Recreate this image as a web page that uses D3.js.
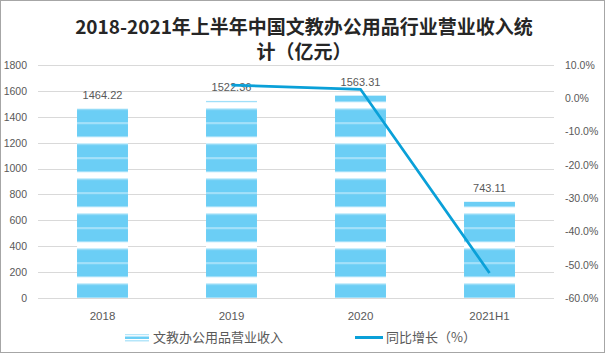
<!DOCTYPE html>
<html><head><meta charset="utf-8">
<script src="https://cdn.jsdelivr.net/npm/d3@7"></script>
<style>
body{margin:0;background:#fff;}
svg{display:block;}
</style></head>
<body>
<svg id="chart" width="606" height="355"></svg>
<script>
const categories = ["2018", "2019", "2020", "2021H1"];
const revenue = [1464.22, 1522.36, 1563.31, 743.11];
const growth = [null, 3.97, 2.69, -52.47];
const leftTicks = [0, 200, 400, 600, 800, 1000, 1200, 1400, 1600, 1800];
const rightTicks = [-60, -50, -40, -30, -20, -10, 0, 10];
const titleLines = ["2018-2021年上半年中国文教办公用品行业营业收入统", "计（亿元）"];
const legendLabels = ["文教办公用品营业收入", "同比增长（%）"];

const svg = d3.select("#chart");
const numFont = "'Liberation Sans', 'Noto Sans CJK SC', sans-serif";
const cjkFont = "'Noto Sans CJK SC', sans-serif";
const textColor = "#595959";
const barBlue = "#6BCEF5", lightBlue = "#B5E6FA", lineBlue = "#0AA0D8";

// background + border
svg.append("rect").attr("x", 0.5).attr("y", 0.5).attr("width", 604).attr("height", 352)
  .attr("fill", "#fff").attr("stroke", "#A6A6A6").attr("stroke-width", 1);

// pattern
const defs = svg.append("defs");
const pat = defs.append("pattern").attr("id", "stripes").attr("patternUnits", "userSpaceOnUse")
  .attr("x", 0).attr("y", 137.3).attr("width", 10).attr("height", 35);
[[0, 6, "#fff"], [6, 1.2, lightBlue], [7.2, 12.8, barBlue], [20, 1.4, lightBlue], [21.4, 12.6, barBlue], [34, 1, lightBlue]]
  .forEach(([y, h, c]) => pat.append("rect").attr("x", 0).attr("y", y).attr("width", 10).attr("height", h).attr("fill", c));

// scales
const x = d3.scaleBand().domain(categories).range([38, 554]).paddingInner(0.605).paddingOuter(0.3025);
const yL = d3.scaleLinear().domain([0, 1800]).range([298, 65]);
const yR = d3.scaleLinear().domain([-60, 10]).range([298, 65]);

// gridlines
const grid = svg.append("g").attr("transform", "translate(38,0)")
  .call(d3.axisLeft(yL).tickValues(leftTicks).tickSizeInner(-516).tickSizeOuter(0).tickFormat(""));
grid.select(".domain").remove();
grid.selectAll("line").attr("stroke", "#D9D9D9").attr("shape-rendering", "crispEdges");

// left axis
const la = svg.append("g").attr("transform", "translate(38,0)")
  .call(d3.axisLeft(yL).tickValues(leftTicks).tickSize(0).tickPadding(11).tickFormat(d3.format("d")));
la.select(".domain").remove();
la.selectAll("text").attr("font-family", numFont).attr("font-size", 10.5).attr("fill", textColor);

// right axis
const ra = svg.append("g").attr("transform", "translate(554,0)")
  .call(d3.axisRight(yR).tickValues(rightTicks).tickSize(0).tickPadding(11).tickFormat(d => d.toFixed(1) + "%"));
ra.select(".domain").remove();
ra.selectAll("text").attr("font-family", numFont).attr("font-size", 10.5).attr("fill", textColor);

// x axis
const xa = svg.append("g").attr("transform", "translate(0,298)")
  .call(d3.axisBottom(x).tickSize(0));
xa.select(".domain").remove();
xa.selectAll("text").attr("y", 22).attr("dy", 0).attr("font-family", numFont).attr("font-size", 11.5).attr("fill", textColor);

// bars
svg.append("g").selectAll("rect").data(categories).join("rect")
  .attr("x", d => x(d)).attr("width", x.bandwidth())
  .attr("y", (d, i) => yL(revenue[i])).attr("height", (d, i) => yL(0) - yL(revenue[i]))
  .attr("fill", "url(#stripes)");

// bar labels
svg.append("g").selectAll("text").data(categories).join("text")
  .attr("x", d => x(d) + x.bandwidth() / 2).attr("y", (d, i) => yL(revenue[i]) - 9.5)
  .attr("text-anchor", "middle").attr("font-family", numFont).attr("font-size", 11).attr("fill", textColor)
  .text((d, i) => revenue[i].toFixed(2));

// growth line
const pts = categories.map((c, i) => ({c, v: growth[i]})).filter(p => p.v !== null);
svg.append("path").datum(pts)
  .attr("d", d3.line().x(p => x(p.c) + x.bandwidth() / 2).y(p => yR(p.v)))
  .attr("fill", "none").attr("stroke", lineBlue).attr("stroke-width", 2.75).attr("stroke-linejoin", "miter");

// title
svg.append("g").selectAll("text").data(titleLines).join("text")
  .attr("x", 304).attr("y", (d, i) => 34 + i * 24.5)
  .attr("text-anchor", "middle").attr("font-family", cjkFont).attr("font-weight", "bold")
  .attr("font-size", 19).attr("fill", "#262626").text(d => d);

// legend
const lg = svg.append("g");
const ic = lg.append("g").attr("transform", "translate(125,334)");
[[0, 1.5, lightBlue], [1.5, 1, "#fff"], [2.5, 2.5, barBlue], [5, 1, "#fff"], [6, 1.5, lightBlue]]
  .forEach(([y, h, c]) => ic.append("rect").attr("x", 0).attr("y", y).attr("width", 24).attr("height", h).attr("fill", c));
lg.append("text").attr("x", 153).attr("y", 342).attr("font-family", cjkFont).attr("font-size", 13)
  .attr("fill", textColor).text(legendLabels[0]);
lg.append("line").attr("x1", 355).attr("x2", 383).attr("y1", 337.5).attr("y2", 337.5)
  .attr("stroke", lineBlue).attr("stroke-width", 3);
lg.append("text").attr("x", 386).attr("y", 342).attr("font-family", cjkFont).attr("font-size", 13)
  .attr("fill", textColor).text(legendLabels[1]);
</script>
</body></html>
